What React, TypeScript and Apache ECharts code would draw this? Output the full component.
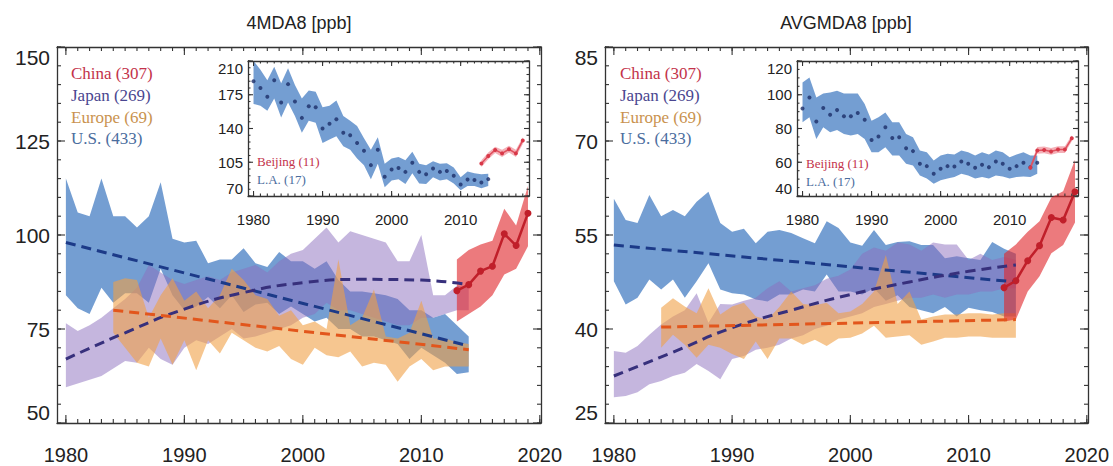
import React, { useEffect, useRef } from 'react';
import * as echarts from 'echarts';

// ---------- categories / years ----------
const yearsMain = [1980,1981,1982,1983,1984,1985,1986,1987,1988,1989,1990,1991,1992,1993,1994,1995,1996,1997,1998,1999,2000,2001,2002,2003,2004,2005,2006,2007,2008,2009,2010,2011,2012,2013,2014];
const yearsEurope = [1984,1985,1986,1987,1988,1989,1990,1991,1992,1993,1994,1995,1996,1997,1998,1999,2000,2001,2002,2003,2004,2005,2006,2007,2008,2009,2010,2011,2012,2013,2014];
const yearsChina = [2013,2014,2015,2016,2017,2018,2019];

// ---------- tick labels ----------
const mainXTicks = [1980, 1990, 2000, 2010, 2020];
const insetXTicks = [1980, 1990, 2000, 2010];
const leftYTicks = [50, 75, 100, 125, 150];
const rightYTicks = [25, 40, 55, 70, 85];
const leftInsetYTicks = [70, 105, 140, 175, 210];
const rightInsetYTicks = [40, 60, 80, 100, 120];

// ---------- 4MDA8 (left) ----------
const usUpper4 = [115,106,105,115,105,105,102,105,114,99, 98,98.5,92.5,93.5,93.5,96.5,92.5,91.5,95.5,93, 93,91,93,88,85,85,84.5,84,83,80, 80,78,79,76,73];
const usLower4 = [84,80.5,79,86,82,84.5,84.5,82,91,84, 80,81,83.5,80.5,84,79.5,81.5,82,79,81, 79,77,78,75,75,73,73,72,71,67, 70,68,66,63,63.5];
const japanUpper4 = [76.5,74.5,76,78,80.5,83,86,92,90,88, 87,88,89,88,90,91,92,90,93,95, 96,99,102,98,101,100,99,98,93,93, 100,84,84,86.5,86];
const japanLower4 = [59.5,60.5,61.5,62.5,64.5,66.5,66,70,67,65.5, 70,72,71,73,75,72.5,73,74,75,76, 78,79,82,80,80,79,78,77,76,76, 78,78,79,80,80];
const europeUpper4 = [87.5,88.5,88,78,84,88.5, 82.5,85,80.5,84,91,88,84,83,78.5,80, 76,77,75,93.5,76,78,85.5,73,72.5,74, 82.5,72.5,72.5,71.5,71];
const europeLower4 = [74,70,66,65,72.5,65.5, 72,64,72,68.5,74,72,70,69,70.5,67, 65.5,70,68,67.5,69,65,66,65.5,61,65, 67,64,65,65,65];
const chinaMid4 = [85.2,86.8,90.4,91.7,100.3,97.2,105.8];
const chinaUpper4 = [93.5,96,97.5,98.5,107,102.5,113];
const chinaLower4 = [77,79,81,84,89.5,91,97];
const usTrend4 = [[1980, 98], [2014, 70.5]];
const europeTrend4 = [[1984, 80], [2014, 69.5]];
const japanTrend4 = [[1980, 67], [1985, 74], [1990, 80.3], [1995, 84.7], [2000, 87.3], [2005, 88.2], [2010, 88], [2014, 86.8]];

// inset (4MDA8)
const laMid4 = [189,182,173,190,167,186,168,151,163,162, 140,145,149.5,135.5,133,125,117,102,118,90, 97.5,99,95,104.5,95,92.5,98.5,95,96,91, 82,87,86.5,84,87.5];
const laUpper4 = [210,201,190,204,187,202.5,185,171,179.5,178, 162,163.5,169,153,148,142.5,130,118,131,103.5, 109,110.5,107,116,103.5,102,106,103.5,104,99.5, 89.5,95.5,93.5,92.5,93];
const laLower4 = [165.5,163.5,158.5,171,151.5,167,153,135.5,148,146, 125,128.5,132,121.5,118,109,102,87.5,103.5,79, 86,87.5,82.5,93.5,83,82.5,89.5,86,87.5,83, 76,80.5,80.5,78,80.5];
const beijingMid4 = [103.6,111.4,117.8,114.2,118.5,114.2,127.6];
const beijingUpper4 = [107,115,121,118,122,118,131];
const beijingLower4 = [100,108,114.5,110.5,115,110.5,124];

// ---------- AVGMDA8 (right) ----------
const usUpperAvg = [60.8,57.4,56.9,61.4,58,59,58,60.3,61.9,56.9, 55.5,56,53.7,55.5,55.8,55.3,54.5,53.7,57.2,56.1, 53.8,53.3,55.8,53.4,53.9,54,53.4,53.4,51.3,51.6, 51.3,51,53.9,52.8,52];
const usLowerAvg = [47.6,43.9,45,47.9,46.3,47.9,45,47.6,50.5,46.3, 45.7,45.5,44.7,44.4,45.5,45.5,46.3,46,48.7,46, 46,45.5,46.5,44.5,45.4,43.5,43,42.5,43.5,42, 43.4,43,42.7,42,42];
const japanUpperAvg = [36.5,36.2,37.3,39.1,40.7,42,43,45.7,41,44, 43.9,44.5,45,46.5,47.6,46,46.5,47,48,48.5, 49.5,52,53,52.5,53.8,53.5,52.5,53.8,53.5,53.5, 51,52,51,51.5,51];
const japanLowerAvg = [29.1,29.3,29.9,31.2,31.7,32.5,33,34.4,33.3,32, 35.2,35.7,36.7,37,37.5,38.5,39,40,40.5,41.5, 42,42.5,43.5,44,44.5,45,45,45.5,45,45.5, 45.5,46,46,46.5,46.5];
const europeUpperAvg = [43.4,44.9,43.6,42.5,46.5,42.3, 43.6,44.2,42,41.5,43.5,46,44,43.8,44.2,42.5, 42.8,44,46,51.8,44,46,41.5,42,42.3,42.3, 42.5,42.5,42.3,42.5,42.5];
const europeLowerAvg = [37,39.1,37.5,35.4,37.5,37, 36,35.2,38,35.2,38.5,38.5,37.5,38.3,37.3,38.5, 38.6,39.3,40.5,38.6,38.8,39,37.5,38,38.6,38.6, 38.8,38.8,38.6,38.6,38.6];
const chinaMidAvg = [46.6,47.7,50.9,53.3,57.8,57.4,61.9];
const chinaUpperAvg = [52,53.5,55.5,57.2,61,62,67];
const chinaLowerAvg = [41.2,41.5,46,48.4,52.1,53.4,57];
const usTrendAvg = [[1980, 53.4], [2014, 47.5]];
const europeTrendAvg = [[1984, 40.3], [2014, 41.5]];
const japanTrendAvg = [[1980, 32.5], [1985, 36.3], [1990, 40.2], [1995, 43], [2000, 45.5], [2005, 47.5], [2010, 49.2], [2014, 50.2]];

// inset (AVGMDA8)
const laMidAvg = [91.9,98.4,84.2,92.1,88.2,90.9,87.2,87.2,89.2,85.2, 73.2,75.2,80.7,74.4,74.8,68.3,66.6,59.1,57.7,53.2, 56.1,57.7,57.5,60.5,59.1,56.7,58.5,57.1,60.5,59.1, 56.1,57.7,59.7,57.1,59.7];
const laUpperAvg = [107.2,110.2,98.4,100.7,101.3,102.3,100.7,100.7,100.7,94.5, 84.6,86.6,89.5,83.7,83.7,76.8,74.8,67,66,61.1, 64,65,64.6,67,66,64,66,64.6,67,66, 63,64.6,66,64,64];
const laLowerAvg = [83.7,86.6,73.8,80.7,77.8,79.1,76.8,75.8,76.8,73.8, 66,66,68.9,64,64,59.1,58.1,52.2,50.3,47.3, 49.3,50.3,51.2,53.2,52.2,50.3,51.2,50.3,52.2,51.6, 50.3,51.2,51.6,51.2,53.2];
const beijingMidAvg = [56.7,67,67.3,66.4,67.5,67.5,74.2];
const beijingUpperAvg = [58.5,69,69.3,68.4,69.5,69.5,76];
const beijingLowerAvg = [55,65,65.3,64.4,65.5,65.5,72.4];

// ---------- styling ----------
const SANS = '"Liberation Sans", Arial, sans-serif';
const SERIF = '"Liberation Serif", "Times New Roman", serif';
const AXIS = '#333';
const C_US = 'rgba(70,125,195,0.75)';
const C_JP = 'rgba(140,110,190,0.5)';
const C_EU = 'rgba(240,160,70,0.6)';
const C_CN = 'rgba(225,40,45,0.62)';
const C_BJ = 'rgba(230,80,95,0.45)';

function steps(a: number, b: number, s: number) {
  const out: number[] = [];
  for (let v = a; v <= b + 1e-9; v += s) out.push(Math.round(v * 1000) / 1000);
  return out;
}

// two axes per dimension per grid: labelled one (bottom/left) and the mirrored box edge (top/right)
function axisPair(dim: 'x' | 'y', g: number, min: number, max: number, majors: number[], fontSize: number, margin: number) {
  const line = { show: true, onZero: false, lineStyle: { color: AXIS, width: 1.3 } };
  const base = { type: 'value', gridIndex: g, min, max, splitLine: { show: false }, axisTick: { show: false } };
  const label = {
    show: true, customValues: majors, fontSize, color: '#222', fontFamily: SANS, margin,
    formatter: (v: number) => String(v),
    ...(dim === 'y' ? { verticalAlignMinLabel: 'bottom', verticalAlignMaxLabel: 'top' } : {}),
  };
  return [
    { ...base, position: dim === 'x' ? 'bottom' : 'left', axisLine: line, axisLabel: label },
    { ...base, position: dim === 'x' ? 'top' : 'right', axisLine: line, axisLabel: { show: false } },
  ];
}

// inward tick marks on all four sides, placed through the axes' own scales
function tickSeries(g: number, xr: number[], yr: number[], xMaj: number[], xMin: number[], yMaj: number[], yMin: number[], majLen: number, minLen: number) {
  return {
    type: 'custom', xAxisIndex: g * 2, yAxisIndex: g * 2, silent: true, clip: false, z: 5,
    data: [[xr[0], yr[0]]],
    renderItem: (_p: any, api: any) => {
      const children: any[] = [];
      const seg = (x1: number, y1: number, x2: number, y2: number) =>
        children.push({ type: 'line', shape: { x1, y1, x2, y2 }, style: { stroke: AXIS, lineWidth: 1.1 } });
      const xt = (v: number, len: number) => {
        const b = api.coord([v, yr[0]]);
        const t = api.coord([v, yr[1]]);
        seg(b[0], b[1], b[0], b[1] - len);
        seg(t[0], t[1], t[0], t[1] + len);
      };
      const yt = (v: number, len: number) => {
        const l = api.coord([xr[0], v]);
        const r = api.coord([xr[1], v]);
        seg(l[0], l[1], l[0] + len, l[1]);
        seg(r[0], r[1], r[0] - len, r[1]);
      };
      xMin.forEach((v) => xt(v, minLen));
      xMaj.forEach((v) => xt(v, majLen));
      yMin.forEach((v) => yt(v, minLen));
      yMaj.forEach((v) => yt(v, majLen));
      return { type: 'group', children };
    },
  };
}

function band(g: number, xs: number[], lo: number[], hi: number[], color: string) {
  return {
    type: 'custom', xAxisIndex: g * 2, yAxisIndex: g * 2, silent: true, clip: true,
    data: [[xs[0], lo[0]]],
    renderItem: (_p: any, api: any) => {
      const pts: number[][] = [];
      for (let i = 0; i < xs.length; i++) pts.push(api.coord([xs[i], hi[i]]));
      for (let i = xs.length - 1; i >= 0; i--) pts.push(api.coord([xs[i], lo[i]]));
      return { type: 'polygon', shape: { points: pts }, style: { fill: color } };
    },
  };
}

function zip(xs: number[], ys: number[]) {
  return xs.map((x, i) => [x, ys[i]]);
}

function trend(g: number, data: number[][], color: string, smooth = false) {
  return {
    type: 'line', xAxisIndex: g * 2, yAxisIndex: g * 2, data, smooth, showSymbol: false, silent: true,
    lineStyle: { color, width: 3, type: [10, 6], cap: 'butt' },
  };
}

function china(g: number, data: number[][]) {
  return {
    type: 'line', xAxisIndex: g * 2, yAxisIndex: g * 2, data, symbol: 'circle', symbolSize: 7, silent: true,
    itemStyle: { color: '#c01f2a' }, lineStyle: { color: '#c01f2a', width: 2.5 },
  };
}

function beijing(g: number, data: number[][]) {
  return {
    type: 'line', xAxisIndex: g * 2, yAxisIndex: g * 2, data, symbol: 'circle', symbolSize: 4, silent: true,
    itemStyle: { color: '#d83848' }, lineStyle: { color: '#e0505e', width: 1.5 },
  };
}

function laDots(g: number, data: number[][]) {
  return {
    type: 'scatter', xAxisIndex: g * 2, yAxisIndex: g * 2, data, symbolSize: 4, silent: true,
    itemStyle: { color: '#1b2d68' },
  };
}

function txt(x: number, y: number, text: string, fill: string, font: string, align = 'left') {
  return { type: 'text', x, y, silent: true, style: { text, fill, font, textAlign: align, textVerticalAlign: 'middle' } };
}

function buildOption() {
  const MX = [1979.25, 2020.1];
  const IX = [1979.2, 2019.9];
  const mainXMinor = steps(1980, 2020, 1);
  const insXMinor = steps(1980, 2019, 1);

  const grids = [
    { left: 57, top: 47, width: 484, height: 376 },
    { left: 248, top: 61, width: 281, height: 135 },
    { left: 605, top: 47, width: 483, height: 376 },
    { left: 797, top: 61, width: 281, height: 135 },
  ].map((g) => ({ ...g, containLabel: false, outerBoundsMode: 'none' }));

  const xAxis = [
    ...axisPair('x', 0, MX[0], MX[1], mainXTicks, 20, 22),
    ...axisPair('x', 1, IX[0], IX[1], insetXTicks, 15, 16),
    ...axisPair('x', 2, MX[0], MX[1], mainXTicks, 20, 22),
    ...axisPair('x', 3, IX[0], IX[1], insetXTicks, 15, 16),
  ];
  const yAxis = [
    ...axisPair('y', 0, 50, 150, leftYTicks, 21, 7),
    ...axisPair('y', 1, 70, 210, leftInsetYTicks, 15, 5),
    ...axisPair('y', 2, 25, 85, rightYTicks, 21, 7),
    ...axisPair('y', 3, 40, 120, rightInsetYTicks, 15, 5),
  ];

  const series = [
    // left main
    band(0, yearsMain, usLower4, usUpper4, C_US),
    band(0, yearsMain, japanLower4, japanUpper4, C_JP),
    band(0, yearsEurope, europeLower4, europeUpper4, C_EU),
    band(0, yearsChina, chinaLower4, chinaUpper4, C_CN),
    trend(0, usTrend4, '#1c3a88'),
    trend(0, japanTrend4, '#37307c', true),
    trend(0, europeTrend4, '#e2561c'),
    china(0, zip(yearsChina, chinaMid4)),
    tickSeries(0, MX, [50, 150], mainXTicks, mainXMinor, leftYTicks, steps(50, 150, 5), 8, 4),
    // left inset
    band(1, yearsMain, laLower4, laUpper4, C_US),
    band(1, yearsChina, beijingLower4, beijingUpper4, C_BJ),
    laDots(1, zip(yearsMain, laMid4)),
    beijing(1, zip(yearsChina, beijingMid4)),
    tickSeries(1, IX, [70, 210], insetXTicks, insXMinor, leftInsetYTicks, steps(70, 210, 7), 5, 2.5),
    // right main
    band(2, yearsMain, usLowerAvg, usUpperAvg, C_US),
    band(2, yearsMain, japanLowerAvg, japanUpperAvg, C_JP),
    band(2, yearsEurope, europeLowerAvg, europeUpperAvg, C_EU),
    band(2, yearsChina, chinaLowerAvg, chinaUpperAvg, C_CN),
    trend(2, usTrendAvg, '#1c3a88'),
    trend(2, japanTrendAvg, '#37307c', true),
    trend(2, europeTrendAvg, '#e2561c'),
    china(2, zip(yearsChina, chinaMidAvg)),
    tickSeries(2, MX, [25, 85], mainXTicks, mainXMinor, rightYTicks, steps(25, 85, 3), 8, 4),
    // right inset
    band(3, yearsMain, laLowerAvg, laUpperAvg, C_US),
    band(3, yearsChina, beijingLowerAvg, beijingUpperAvg, C_BJ),
    laDots(3, zip(yearsMain, laMidAvg)),
    beijing(3, zip(yearsChina, beijingMidAvg)),
    tickSeries(3, IX, [40, 120], insetXTicks, insXMinor, rightInsetYTicks, steps(40, 120, 5), 5, 2.5),
  ];

  const legFont = `17px ${SERIF}`;
  const insFont = `13px ${SERIF}`;
  const graphic = [
    txt(299, 23, '4MDA8 [ppb]', '#222', `18px ${SANS}`, 'center'),
    txt(846, 23, 'AVGMDA8 [ppb]', '#222', `18px ${SANS}`, 'center'),
    txt(71, 73, 'China (307)', '#c3324a', legFont),
    txt(71, 95, 'Japan (269)', '#4a4690', legFont),
    txt(71, 117, 'Europe (69)', '#c9924e', legFont),
    txt(71, 138, 'U.S. (433)', '#4b6d9e', legFont),
    txt(620, 73, 'China (307)', '#c3324a', legFont),
    txt(620, 95, 'Japan (269)', '#4a4690', legFont),
    txt(620, 117, 'Europe (69)', '#c9924e', legFont),
    txt(620, 138, 'U.S. (433)', '#4b6d9e', legFont),
    txt(257, 161, 'Beijing (11)', '#c3324a', insFont),
    txt(257, 179, 'L.A. (17)', '#4b6d9e', insFont),
    txt(806, 163, 'Beijing (11)', '#c3324a', insFont),
    txt(806, 181, 'L.A. (17)', '#4b6d9e', insFont),
  ];

  return {
    animation: false,
    backgroundColor: '#fff',
    grid: grids,
    xAxis,
    yAxis,
    series,
    graphic,
  };
}

export default function App() {
  const ref = useRef<HTMLDivElement>(null);
  useEffect(() => {
    if (!ref.current) return;
    const chart = echarts.init(ref.current, null, { renderer: 'svg' });
    chart.setOption(buildOption() as any);
    return () => chart.dispose();
  }, []);
  return (
    <div
      ref={ref}
      style={{ position: 'fixed', left: 0, top: 0, width: 1113, height: 466, background: '#fff' }}
    />
  );
}
